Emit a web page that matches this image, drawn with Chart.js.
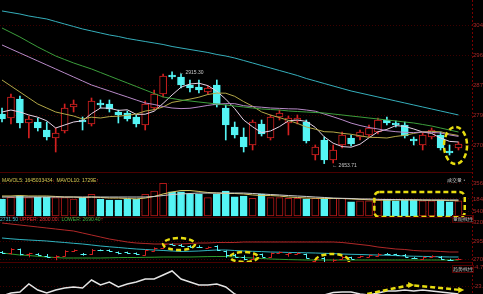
<!DOCTYPE html>
<html>
<head>
<meta charset="utf-8">
<script src="https://cdn.jsdelivr.net/npm/chart.js@4.4.1/dist/chart.umd.min.js"></script>
<style>
  html, body { margin: 0; padding: 0; background: #000; }
  #wrap { position: relative; width: 483px; height: 294px; overflow: hidden; background: #000; font-family: "Liberation Sans", Arial, sans-serif; }
  #wrap canvas { position: absolute; left: 0; }
  .sep { position: absolute; left: 0; width: 472px; height: 1px; background: #4a0000; }
  .txt { position: absolute; font-size: 5px; line-height: 6px; white-space: nowrap; }
</style>
</head>
<body>
<div id="wrap">
  <canvas id="priceChart" width="483" height="172" style="top:0"></canvas>
  <canvas id="volumeChart" width="483" height="46" style="top:172px"></canvas>
  <canvas id="bollChart" width="483" height="45" style="top:218px"></canvas>
  <canvas id="oscChart" width="483" height="31" style="top:263px"></canvas>
  <div class="sep" style="top:172px"></div>
  <div class="sep" style="top:217px"></div>
  <div class="sep" style="top:262px"></div>
  <div class="txt" style="left:2px;top:177px"><span style="color:#d8c850">MAVOL5: 1645033434</span><span style="color:#e03030">↓</span> <span style="color:#d8c850">MAVOL10: 1729E</span><span style="color:#e03030">↑</span></div>
  <div class="txt" style="left:0;top:216px"><span style="color:#40c8d0">2731.50</span> <span style="color:#e03030">UPPER: 2800.00</span><span style="color:#e03030">↓</span> <span style="color:#40b040">LOWER: 2690.40</span><span style="color:#e03030">↑</span></div>
  <div class="txt" style="left:447px;top:177px;color:#c8c8c8">成交量 <span style="color:#888">•</span></div>
  <div class="txt" style="left:452px;top:215px;color:#c8c8c8;border:1px solid #500">量能线性</div>
  <div class="txt" style="left:452px;top:265px;color:#c8c8c8;border:1px solid #500">趋势线性</div>
</div>
<script>
// candle slots (one per trading day)
const slots = [0,1,2,3,4,5,6,7,8,9,10,11,12,13,14,15,16,17,18,19,20,21,22,23,24,25,
  26,27,28,29,30,31,32,33,34,35,36,37,38,39,40,41,42,43,44,45,46,47,48,49,50,51];

const opens = [2795.1, 2783.7, 2837.9, 2769.5, 2772.3, 2749.5, 2726.7, 2746.7, 2815.1, 2778.0,
  2766.6, 2826.5, 2823.6, 2800.8, 2798.0, 2786.6, 2763.8, 2812.2, 2852.1, 2906.3,
  2900.6, 2877.8, 2872.1, 2857.8, 2877.8, 2812.2, 2758.1, 2729.6, 2706.8, 2766.6,
  2726.7, 2786.6, 2769.5, 2775.2, 2772.3, 2678.3, 2721.0, 2664.0, 2706.8, 2726.7,
  2729.6, 2735.3, 2743.8, 2778.0, 2769.5, 2763.8, 2723.9, 2706.8, 2729.6, 2735.3,
  2689.7, 2698.2];
const closes = [2780.9, 2843.6, 2769.5, 2780.9, 2755.2, 2729.6, 2741.0, 2812.2, 2823.6, 2772.3,
  2832.2, 2820.8, 2809.4, 2792.3, 2780.9, 2766.6, 2823.6, 2852.1, 2903.4, 2900.6,
  2877.8, 2869.2, 2863.5, 2869.2, 2820.8, 2763.8, 2735.3, 2701.1, 2772.3, 2738.1,
  2786.6, 2798.0, 2783.7, 2783.7, 2718.2, 2701.1, 2664.0, 2692.5, 2735.3, 2709.6,
  2743.8, 2755.2, 2778.0, 2769.5, 2763.8, 2732.4, 2718.2, 2735.3, 2749.5, 2698.2,
  2684.0, 2709.6];
const highs = [2812.2, 2852.1, 2846.4, 2789.4, 2783.7, 2772.3, 2755.2, 2823.6, 2835.0, 2786.6,
  2840.7, 2835.0, 2835.0, 2806.5, 2803.7, 2792.3, 2832.2, 2863.5, 2909.1, 2915.3,
  2909.1, 2892.0, 2892.0, 2874.9, 2892.0, 2820.8, 2772.3, 2755.2, 2778.0, 2778.0,
  2792.3, 2806.5, 2789.4, 2792.3, 2778.0, 2706.8, 2729.6, 2706.8, 2743.8, 2735.3,
  2749.5, 2763.8, 2783.7, 2786.6, 2775.2, 2772.3, 2729.6, 2741.0, 2755.2, 2743.8,
  2706.8, 2715.3];
const lows = [2772.3, 2766.6, 2755.2, 2726.7, 2746.7, 2721.0, 2686.8, 2741.0, 2800.8, 2749.5,
  2760.9, 2812.2, 2800.8, 2769.5, 2775.2, 2758.1, 2749.5, 2806.5, 2843.6, 2894.9,
  2869.2, 2857.8, 2855.0, 2852.1, 2815.1, 2721.0, 2726.7, 2686.8, 2692.5, 2732.4,
  2721.0, 2778.0, 2735.3, 2766.6, 2712.5, 2664.0, 2653.71, 2655.5, 2698.2, 2703.9,
  2721.0, 2729.6, 2738.1, 2763.8, 2758.1, 2726.7, 2706.8, 2692.5, 2723.9, 2692.5,
  2678.3, 2692.5];

// moving averages on the price panel
const ma5 = [2800.8, 2806.5, 2800.8, 2792.3, 2786.0, 2775.7, 2755.2, 2763.8, 2772.3, 2775.7,
  2796.2, 2812.2, 2811.6, 2805.4, 2807.1, 2794.0, 2794.5, 2803.1, 2825.3, 2849.3,
  2871.5, 2880.6, 2882.9, 2876.0, 2860.1, 2837.3, 2810.5, 2778.0, 2758.6, 2742.1,
  2746.7, 2759.2, 2775.7, 2778.0, 2774.0, 2756.9, 2730.1, 2711.9, 2702.2, 2700.5,
  2709.0, 2727.3, 2744.4, 2751.2, 2762.0, 2759.8, 2752.4, 2743.8, 2739.8, 2726.7,
  2717.0, 2715.3];
const ma10 = [2892.0, 2874.9, 2857.8, 2840.7, 2823.6, 2812.2, 2800.8, 2795.1, 2789.4, 2780.9,
  2786.0, 2783.7, 2787.7, 2788.8, 2791.4, 2795.1, 2803.4, 2807.4, 2815.3, 2828.2,
  2832.7, 2837.6, 2843.0, 2850.7, 2854.7, 2854.4, 2845.5, 2830.4, 2817.3, 2801.1,
  2792.0, 2784.8, 2776.9, 2768.3, 2758.1, 2751.8, 2744.7, 2743.8, 2740.1, 2737.3,
  2733.0, 2728.7, 2728.1, 2726.7, 2731.3, 2734.4, 2739.8, 2744.1, 2745.5, 2744.4,
  2738.4, 2733.8];
const ma20 = [2991.8, 2980.4, 2969.0, 2957.6, 2946.2, 2934.8, 2923.4, 2912.0, 2900.6, 2889.2,
  2877.8, 2869.2, 2860.7, 2852.1, 2843.6, 2835.0, 2826.5, 2822.2, 2816.5, 2812.2,
  2810.5, 2811.4, 2815.3, 2819.6, 2823.0, 2824.7, 2824.5, 2818.8, 2816.2, 2814.5,
  2812.2, 2811.1, 2809.9, 2809.4, 2806.5, 2803.1, 2795.1, 2787.1, 2778.6, 2769.2,
  2762.3, 2756.6, 2752.4, 2747.5, 2744.7, 2742.9, 2742.1, 2743.8, 2742.7, 2741.0,
  2735.5, 2731.3];
const ma30 = [3040.2, 3027.4, 3014.6, 3000.3, 2986.1, 2973.2, 2960.4, 2950.4, 2940.5, 2931.9,
  2923.4, 2913.4, 2903.4, 2893.4, 2883.5, 2873.5, 2863.5, 2853.5, 2843.6, 2839.3,
  2835.0, 2832.2, 2829.3, 2826.5, 2823.6, 2820.8, 2817.9, 2815.1, 2812.2, 2809.4,
  2807.9, 2806.5, 2803.7, 2802.2, 2800.8, 2799.4, 2798.0, 2795.1, 2792.3, 2789.4,
  2786.6, 2783.7, 2780.9, 2778.0, 2775.2, 2772.3, 2769.5, 2765.2, 2760.9, 2755.2,
  2749.5, 2743.8];
const ma60 = [3088.7, 3084.4, 3080.1, 3074.4, 3070.1, 3065.9, 3058.7, 3051.6, 3044.5, 3037.4,
  3031.7, 3026.0, 3020.3, 3016.0, 3010.3, 3006.0, 3001.7, 2997.5, 2993.2, 2987.5,
  2983.2, 2978.9, 2974.7, 2970.4, 2964.7, 2960.4, 2954.7, 2947.6, 2940.5, 2933.3,
  2926.2, 2919.1, 2912.0, 2904.8, 2896.3, 2889.2, 2882.0, 2874.9, 2867.8, 2860.7,
  2855.0, 2849.3, 2843.6, 2837.9, 2832.2, 2826.5, 2820.8, 2815.1, 2809.4, 2803.7,
  2798.0, 2792.3];
const priceTicks = [3048.75, 2963.25, 2877.75, 2792.25, 2706.75];

// volume panel
const volumes = [18.4e8, 20.2e8, 21.9e8, 19.8e8, 20.2e8, 20.2e8, 19.8e8, 19.8e8, 18.4e8, 19.8e8,
  23.4e8, 18.4e8, 17.3e8, 17.3e8, 18.4e8, 18.4e8, 23.4e8, 27.0e8, 35.3e8, 26.2e8,
  26.2e8, 23.4e8, 23.4e8, 19.8e8, 23.4e8, 27.0e8, 20.8e8, 21.6e8, 19.1e8, 23.4e8,
  19.8e8, 19.8e8, 19.1e8, 19.1e8, 18.4e8, 19.1e8, 18.4e8, 19.1e8, 19.1e8, 15.4e8,
  16.5e8, 16.5e8, 17.3e8, 18.4e8, 16.5e8, 17.3e8, 17.3e8, 16.5e8, 16.5e8, 17.3e8,
  15.4e8, 16.5e8];
const mavol5 = [21.6e8, 21.6e8, 22.1e8, 21.6e8, 21.6e8, 21.6e8, 21.1e8, 20.5e8, 20.5e8, 20.0e8,
  20.5e8, 20.0e8, 19.4e8, 19.4e8, 18.9e8, 18.4e8, 19.4e8, 21.1e8, 23.8e8, 25.9e8,
  27.5e8, 27.5e8, 26.5e8, 25.4e8, 24.8e8, 24.3e8, 24.3e8, 23.8e8, 22.7e8, 22.1e8,
  22.1e8, 21.6e8, 20.5e8, 20.0e8, 19.4e8, 19.2e8, 18.9e8, 18.9e8, 18.9e8, 18.4e8,
  18.0e8, 17.5e8, 17.1e8, 17.1e8, 17.3e8, 17.3e8, 17.3e8, 17.1e8, 17.0e8, 17.0e8,
  16.7e8, 16.4e8];
const mavol10 = [20.5e8, 20.5e8, 20.5e8, 20.5e8, 20.5e8, 20.5e8, 20.5e8, 20.5e8, 20.5e8, 20.5e8,
  20.5e8, 20.5e8, 20.5e8, 20.5e8, 20.5e8, 20.5e8, 20.5e8, 21.1e8, 22.1e8, 23.2e8,
  23.8e8, 24.3e8, 24.8e8, 24.8e8, 24.8e8, 24.8e8, 24.8e8, 24.8e8, 24.3e8, 23.8e8,
  23.2e8, 22.7e8, 22.1e8, 21.6e8, 21.1e8, 20.5e8, 20.0e8, 19.4e8, 19.1e8, 18.9e8,
  18.4e8, 18.4e8, 18.0e8, 17.8e8, 17.8e8, 17.6e8, 17.5e8, 17.3e8, 17.3e8, 17.3e8,
  17.3e8, 17.3e8];
const volumeTicks = [35.6e8, 18.4e8, 5.4e8];

// BOLL panel
const bollUpper = [3197.3, 3183.6, 3169.9, 3156.2, 3142.5, 3128.8, 3115.1, 3101.4, 3087.7, 3060.3,
  3032.9, 3005.5, 2978.1, 2957.6, 2937.0, 2923.3, 2916.5, 2909.6, 2909.6, 2909.6,
  2909.6, 2916.5, 2923.3, 2923.3, 2930.2, 2930.2, 2930.2, 2937.0, 2937.0, 2937.0,
  2937.0, 2937.0, 2937.0, 2937.0, 2937.0, 2937.0, 2937.0, 2937.0, 2930.2, 2916.5,
  2902.7, 2889.1, 2868.5, 2854.8, 2841.1, 2834.3, 2820.6, 2813.7, 2813.7, 2806.9,
  2800.0, 2800.0];
const bollMid = [2991.8, 2980.8, 2971.3, 2964.4, 2957.6, 2950.7, 2939.7, 2930.2, 2919.2, 2909.6,
  2896.0, 2882.3, 2871.3, 2861.7, 2850.8, 2841.1, 2834.3, 2827.4, 2820.6, 2813.7,
  2806.9, 2809.6, 2813.7, 2820.6, 2827.4, 2827.4, 2820.6, 2813.7, 2809.6, 2805.5,
  2800.0, 2797.3, 2794.5, 2791.8, 2789.0, 2786.3, 2782.2, 2778.1, 2772.6, 2768.5,
  2765.9, 2761.6, 2758.9, 2754.8, 2750.6, 2745.2, 2742.4, 2739.7, 2736.9, 2734.2,
  2731.5, 2731.5];
const bollLower = [2786.3, 2772.6, 2758.9, 2752.1, 2741.0, 2731.5, 2724.6, 2717.8, 2717.8, 2717.8,
  2717.8, 2717.8, 2720.5, 2723.2, 2724.6, 2724.6, 2727.3, 2728.7, 2731.5, 2731.5,
  2731.5, 2731.5, 2734.2, 2736.9, 2738.3, 2738.3, 2731.5, 2724.6, 2717.8, 2711.0,
  2704.1, 2700.0, 2695.9, 2693.1, 2690.4, 2690.4, 2690.4, 2690.4, 2690.4, 2690.4,
  2690.4, 2690.4, 2690.4, 2690.4, 2690.4, 2690.4, 2690.4, 2690.4, 2690.4, 2690.4,
  2690.4, 2690.4];
const bollTicks = [3200, 2950, 2700];

// bottom oscillator panel
const oscLine = [-33, -30, -29, -21, -27, -30, -27, -25, -24, -25,
  -17, -22, -19, -24, -21, -19, -16, -16, -12, -8,
  -16, -19, -22, -22, -21, -24, -31, -35, -36, -37,
  -36, -37, -36, -35, -36, -34, -32, -29.5, -29, -29,
  -31, -32, -30, -28, -28, -27, -28, -27, -28, -29,
  -30, -31];
const oscTicks = [-4.7, -23.7];

const upRed = '#d42020';
const volRed = '#b01818';
const downCyan = '#54f4f4';
const labelRed = '#a82828';
const gridRed = 'rgba(110,0,0,0.55)';
const markYellow = '#e6dc10';
const slotMin = -0.2235;
const slotMax = 52.51;

const isUp = i => closes[i] >= opens[i];
const pts = arr => slots.map((s, i) => ({ x: s, y: arr[i] }));

function panelOptions(yMin, yMax, tickVals, fmt) {
  return {
    responsive: false,
    animation: false,
    events: [],
    layout: { padding: 0 },
    plugins: { legend: { display: false }, tooltip: { enabled: false } },
    scales: {
      x: { type: 'linear', display: false, min: slotMin, max: slotMax, offset: false },
      y: {
        position: 'right',
        min: yMin,
        max: yMax,
        afterBuildTicks: s => { s.ticks = tickVals.map(v => ({ value: v })); },
        afterFit: s => { s.width = 11; s.paddingTop = 0; s.paddingBottom = 0; },
        grid: { color: gridRed, drawTicks: false, tickLength: 0 },
        border: { display: false, dash: [1, 2] },
        ticks: { color: labelRed, font: { size: 6, family: 'Liberation Sans' }, padding: 1, callback: v => fmt(v) }
      }
    }
  };
}

function lineSet(arr, color, width) {
  return { type: 'line', data: pts(arr), borderColor: color, borderWidth: width || 1,
    pointRadius: 0, tension: 0, order: 0 };
}

// dotted red frame line on the right edge of every panel
const edgeLine = {
  id: 'edgeLine',
  afterDraw(chart) {
    const { ctx, chartArea } = chart;
    ctx.save();
    ctx.strokeStyle = '#7a0000';
    ctx.setLineDash([2, 2]);
    ctx.beginPath();
    ctx.moveTo(chartArea.right + 0.5, 0);
    ctx.lineTo(chartArea.right + 0.5, chart.height);
    ctx.stroke();
    ctx.restore();
  }
};

// yellow dashed highlight marks, anchored on data values
function markPlugin(marks) {
  return {
    id: 'marks',
    afterDraw(chart) {
      const { ctx, scales: { x, y } } = chart;
      ctx.save();
      ctx.strokeStyle = markYellow;
      ctx.lineWidth = 2.5;
      ctx.setLineDash([5, 3]);
      marks.forEach(m => {
        ctx.beginPath();
        if (m.kind === 'ellipse') {
          ctx.ellipse(x.getPixelForValue(m.slot), y.getPixelForValue(m.value), m.rx, m.ry, 0, 0, Math.PI * 2);
        } else if (m.kind === 'box') {
          const x1 = x.getPixelForValue(m.slot1), x2 = x.getPixelForValue(m.slot2);
          const y1 = y.getPixelForValue(m.value1), y2 = y.getPixelForValue(m.value2);
          ctx.roundRect(x1, y1, x2 - x1, y2 - y1, 5);
        } else if (m.kind === 'arrow') {
          m.path.forEach((p, k) => {
            const px = x.getPixelForValue(p[0]), py = y.getPixelForValue(p[1]);
            if (k === 0) ctx.moveTo(px, py); else ctx.lineTo(px, py);
          });
        }
        ctx.stroke();
        if (m.kind === 'arrow') {
          ctx.setLineDash([]);
          ctx.fillStyle = markYellow;
          m.heads.forEach(h => {
            const px = x.getPixelForValue(h[0]), py = y.getPixelForValue(h[1]);
            ctx.beginPath();
            ctx.moveTo(px + 4, py);
            ctx.lineTo(px - 2, py - 3);
            ctx.lineTo(px - 2, py + 3);
            ctx.closePath();
            ctx.fill();
          });
          ctx.setLineDash([5, 3]);
        }
      });
      ctx.restore();
    }
  };
}

// highest / lowest price tags
const extremeTags = {
  id: 'extremeTags',
  afterDatasetsDraw(chart) {
    const { ctx, scales: { x, y } } = chart;
    const hi = highs.indexOf(Math.max(...highs));
    const lo = lows.indexOf(Math.min(...lows));
    ctx.save();
    ctx.fillStyle = '#c8c8c8';
    ctx.font = '5px "Liberation Sans"';
    ctx.textBaseline = 'middle';
    ctx.fillText('\u2190 ' + highs[hi].toFixed(2), x.getPixelForValue(slots[hi]) + 7, y.getPixelForValue(highs[hi]) + 1);
    ctx.fillText('\u2190 ' + lows[lo].toFixed(2), x.getPixelForValue(slots[lo]) + 8, y.getPixelForValue(lows[lo]) + 2);
    ctx.restore();
  }
};

// US style OHLC bars inside the BOLL panel
const ohlcBars = {
  id: 'ohlcBars',
  afterDatasetsDraw(chart) {
    const { ctx, chartArea, scales: { x, y } } = chart;
    ctx.save();
    ctx.beginPath();
    ctx.rect(chartArea.left, chartArea.top, chartArea.right - chartArea.left, chartArea.bottom - chartArea.top);
    ctx.clip();
    ctx.lineWidth = 1;
    slots.forEach((s, i) => {
      const px = Math.round(x.getPixelForValue(s)) + 0.5;
      const yo = Math.round(y.getPixelForValue(opens[i])) + 0.5;
      const yc = Math.round(y.getPixelForValue(closes[i])) + 0.5;
      ctx.strokeStyle = isUp(i) ? upRed : downCyan;
      ctx.beginPath();
      ctx.moveTo(px, y.getPixelForValue(highs[i]));
      ctx.lineTo(px, y.getPixelForValue(lows[i]));
      ctx.moveTo(px - 3, yo);
      ctx.lineTo(px, yo);
      ctx.moveTo(px, yc);
      ctx.lineTo(px + 3, yc);
      ctx.stroke();
    });
    ctx.restore();
  }
};

// Price panel
new Chart(document.getElementById('priceChart'), {
  type: 'bar',
  data: {
    datasets: [
      lineSet(ma60, '#35aebb'),
      lineSet(ma30, '#3c9e3c'),
      lineSet(ma20, '#b88ac8'),
      lineSet(ma10, '#b4a848'),
      lineSet(ma5, '#e6d2e6'),
      {
        data: slots.map((s, i) => ({ x: s, y: [opens[i], closes[i]] })),
        backgroundColor: slots.map((s, i) => isUp(i) ? '#000' : downCyan),
        borderColor: slots.map((s, i) => isUp(i) ? upRed : downCyan),
        borderWidth: 1, borderSkipped: false, barThickness: 7, grouped: false, order: 1
      },
      {
        data: slots.map((s, i) => ({ x: s, y: [lows[i], highs[i]] })),
        backgroundColor: slots.map((s, i) => isUp(i) ? upRed : downCyan),
        borderWidth: 0, barThickness: 1, grouped: false, order: 2
      }
    ]
  },
  options: panelOptions(2629.8, 3120, priceTicks, v => v.toFixed(2)),
  plugins: [edgeLine, extremeTags, markPlugin([
    { kind: 'ellipse', slot: 50.67, value: 2705.3, rx: 11.5, ry: 18.5 }
  ])]
});

// Volume panel
new Chart(document.getElementById('volumeChart'), {
  type: 'bar',
  data: {
    datasets: [
      lineSet(mavol10, '#d0d0d0'),
      lineSet(mavol5, '#d8c860'),
      {
        data: pts(volumes),
        backgroundColor: slots.map((s, i) => isUp(i) ? '#000' : downCyan),
        borderColor: slots.map((s, i) => isUp(i) ? volRed : downCyan),
        borderWidth: 1, borderSkipped: false, barThickness: 7, grouped: false, order: 1
      }
    ]
  },
  options: panelOptions(-2.16e8, 47.52e8, volumeTicks, v => String(Math.round(v / 1e6))),
  plugins: [edgeLine, markPlugin([
    { kind: 'box', slot1: 41.6, slot2: 51.7, value1: 25.9e8, value2: -1.08e8 }
  ])]
});

// BOLL panel
new Chart(document.getElementById('bollChart'), {
  type: 'line',
  data: {
    datasets: [
      lineSet(bollUpper, '#b02828'),
      lineSet(bollMid, '#30b4c0'),
      lineSet(bollLower, '#2e9e2e')
    ]
  },
  options: panelOptions(2649.3, 3265.8, bollTicks, v => v.toFixed(2)),
  plugins: [edgeLine, ohlcBars, markPlugin([
    { kind: 'ellipse', slot: 19.78, value: 2909.0, rx: 16, ry: 6 },
    { kind: 'ellipse', slot: 27.04, value: 2731.5, rx: 14, ry: 5 },
    { kind: 'ellipse', slot: 36.87, value: 2676.7, rx: 17, ry: 7 }
  ])]
});

// Bottom oscillator panel
new Chart(document.getElementById('oscChart'), {
  type: 'line',
  data: { datasets: [lineSet(oscLine, '#e4e4e4', 1.5)] },
  options: panelOptions(-31, 0, oscTicks, v => v.toFixed(2)),
  plugins: [edgeLine, markPlugin([
    { kind: 'arrow', path: [[40.8, -31], [45.6, -22], [51.2, -27]], heads: [[45.6, -22], [51.2, -27]] }
  ])]
});
</script>
</body>
</html>
